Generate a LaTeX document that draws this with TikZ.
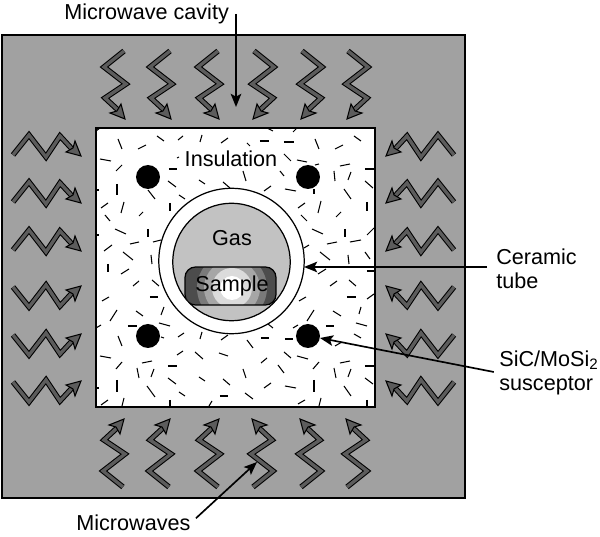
\documentclass[tikz,border=0pt]{standalone}
\usepackage{fontspec}
\setmainfont{Liberation Sans}
\usetikzlibrary{arrows.meta}
\tikzset{>={Stealth[length=7.5pt,width=6pt,inset=1.6pt]}}
\definecolor{cavitygray}{gray}{0.63}
\definecolor{gasgray}{gray}{0.76}
\definecolor{wavegray}{gray}{0.36}
\tikzset{
  label/.style={font=\fontsize{12.3}{13.6}\selectfont,inner sep=0pt,align=left},
  leader/.style={->,line width=0.95pt},
  fibre/.style={line width=0.6pt},
  waveshaft/.style={line width=0.6pt,double=wavegray,double distance=1.9pt,miter limit=10},
  wavehead/.style={line width=0.6pt,fill=wavegray},
  wavepic/.pic={
    \draw [waveshaft] (0,0)--(-20,16)--(2,33)--(-19,47)--(-6,59);
    \draw [wavehead] (1,68)--(-14,62)--(-7,60)--(-3,53)--cycle;
  }
}

\begin{document}
\begin{tikzpicture}[x=0.02cm,y=-0.02cm]
\useasboundingbox (0,0) rectangle (600,537);
\draw [fill=cavitygray,line width=0.8pt] (2,35) rectangle (465,498);
\draw [fill=white,line width=0.8pt] (96,128) rectangle (375,407);

\begin{scope}
\clip (96,128) rectangle (375,407);
\foreach \xa/\ya/\xb/\yb in {
118/139/122/149,138/149/146/145,157/136/164/141,178/140/183/136,200/142/202/135,221/143/228/138,
100/159/111/161,116/171/122/165,169/169/177/169,177/158/179/157,168/181/176/187,199/180/205/184,
223/182/230/188,148/190/155/199,117/184/117/195,179/195/185/199,170/203/170/211,101/208/108/203,
121/213/124/202,139/216/143/212,105/215/110/221,115/229/126/234,148/229/148/237,130/244/139/242,
153/242/161/240,104/251/112/245,123/252/133/260,151/255/152/264,108/264/108/272,96/190/99/190,
96/235/99/235,128/128/137/128,153/128/157/128,96/131/100/128,
121/274/129/269,133/286/139/281,152/280/159/286,150/297/158/297,102/301/109/297,136/311/143/316,
161/315/164/307,110/321/117/310,128/326/137/326,159/323/170/326,96/328/101/325,161/337/164/338,
178/337/184/333,200/339/202/332,221/340/228/335,118/336/122/346,177/355/183/351,195/352/203/359,
219/353/228/356,100/356/111/358,116/369/122/362,142/363/152/361,168/366/177/366,137/368/139/378,
151/377/154/369,168/378/176/384,199/377/205/381,223/379/230/385,117/380/117/392,147/386/155/397,
179/392/185/396,220/396/228/396,96/388/99/388,101/405/108/400,122/406/124/398,170/400/170/407,
209/406/212/401,
267/128/273/131,293/132/297/128,325/128/335/128,362/128/367/128,260/141/269/141,284/142/294/142,
315/139/319/149,335/149/343/145,354/136/361/141,247/143/250/146,284/154/291/161,297/160/307/162,
243/171/246/181,280/171/284/176,315/165/319/164,340/166/350/164,365/169/374/169,334/171/335/181,
348/180/351/172,365/181/373/188,264/191/271/186,285/189/296/191,314/189/314/194,344/189/351/199,
298/208/305/203,318/213/321/201,367/202/367/211,336/217/341/212,301/215/307/221,312/229/323/234,
345/229/345/237,367/235/374/228,327/244/337/242,350/242/361/240,304/248/309/245,320/252/330/260,
348/255/349/264,365/252/370/259,318/274/326/269,330/286/337/281,349/280/356/286,347/297/356/297,
367/299/374/294,299/301/306/297,367/271/374/271,333/311/341/316,359/314/361/307,307/321/314/310,
326/326/334/326,356/323/367/326,293/328/298/325,268/324/273/328,261/338/269/338,285/339/293/339,
354/334/361/338,335/346/342/342,247/340/253/348,284/352/291/358,297/356/308/359,261/363/267/358,
313/369/319/362,340/363/350/361,365/366/374/366,243/369/246/378,278/365/284/373,334/368/336/378,
348/377/351/369,365/378/373/384,264/388/271/383,285/386/296/388,314/380/314/392,344/386/351/396,
245/393/253/399,298/404/305/400,319/406/321/398,367/400/367/406}
  \draw [fibre] (\xa,\ya) -- (\xb,\yb);
\end{scope}

\draw [fill=white,line width=0.7pt] (231.5,261) circle (72.7);
\draw [fill=gasgray,line width=0.7pt] (231.5,262) circle (58.7);
\begin{scope}
\clip (231.5,262) circle (58.7);
\begin{scope}
\clip [rounded corners=6pt] (185,267) rectangle (276,305);
\fill [black!70] (185,267) rectangle (276,305);
\fill [black!52] (232,288) circle (35);
\fill [black!35] (232,288) circle (28);
\fill [black!14] (232,288) circle (20);
\fill [white] (232,288) circle (12);
\end{scope}
\draw [rounded corners=6pt,line width=0.7pt] (185,267) rectangle (276,305);
\end{scope}

\fill (148,177) circle (12);
\fill (308,177) circle (12);
\fill (148,336) circle (12);
\fill (308,336) circle (12);

\foreach \wx in {124,170,218}
  \pic [shift={(\wx,51)}] {wavepic};
\foreach \wx in {254,302,348}
  \pic [shift={(\wx,51)},xscale=-1] {wavepic};
\foreach \wx in {123,169,218}
  \pic [shift={(\wx,487)},yscale=-1] {wavepic};
\foreach \wx in {253,301,347}
  \pic [shift={(\wx,487)},xscale=-1,yscale=-1] {wavepic};
\foreach \wy in {155,202,250}
  \pic [cm={0,-1,-1,0,(13,\wy)}] {wavepic};
\foreach \wy in {287,335,382}
  \pic [cm={0,1,-1,0,(13,\wy)}] {wavepic};
\foreach \wy in {155,202,250}
  \pic [cm={0,-1,1,0,(454,\wy)}] {wavepic};
\foreach \wy in {287,335,382}
  \pic [cm={0,1,1,0,(454,\wy)}] {wavepic};

\node [label] (insulation) at (231,159) {Insulation};
\node [label] (gas) at (232,238) {Gas};
\node [label] (sample) at (232,286) {Sample};
\node [label,anchor=west] (cavity) at (64,14) {Microwave cavity};
\node [label,anchor=west] (tube) at (496,269) {Ceramic\\tube};
\node [label,anchor=west] (susceptor) at (499,373) {SiC/MoSi\textsubscript{2}\\susceptor};
\node [label,anchor=west] (microwaves) at (76,523) {Microwaves};

\coordinate (cavitytip) at (236,107);
\coordinate (tubetip) at (304,267);
\coordinate (susceptortip) at (320,338);
\coordinate (microwavestip) at (257,462);
\draw [leader] (cavity.east -| cavitytip) -- (cavitytip);
\draw [leader,shorten <=5pt] (tube.west |- tubetip) -- (tubetip);
\draw [leader,shorten <=3pt] (susceptor.west) -- (susceptortip);
\draw [leader,shorten <=4pt] (microwaves.east) -- (microwavestip);
\end{tikzpicture}
\end{document}
